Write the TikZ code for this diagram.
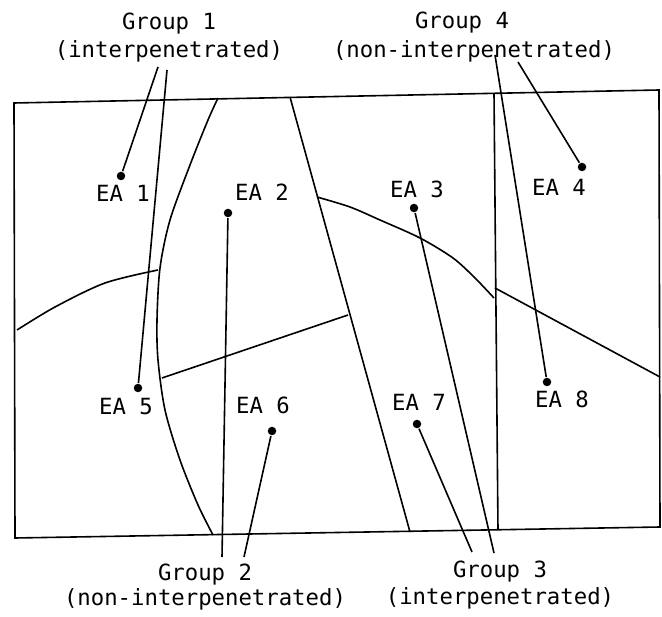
\documentclass[tikz,border=0pt]{standalone}
\usepackage{fontspec}
\setmonofont{DejaVu Sans Mono}
\begin{document}
\begin{tikzpicture}[x=1pt,y=-1pt,line width=1.6pt,
  lbl/.style={font=\ttfamily\fontsize{22.3}{26}\selectfont,inner sep=0pt},
  dot/.style={circle,fill,inner sep=0pt,minimum size=8.5pt}]
\useasboundingbox (0,0) rectangle (662,617);
% frame and boundaries
\draw (14,103) -- (659,90) -- (660,527) -- (15,538) -- cycle;
\draw plot[smooth] coordinates {(218,98) (208,120) (190,165) (170,220) (160,268) (157,320) (158,360) (165,410) (180,460) (198,505) (213,535)};
\draw (290,97) -- (410,532);
\draw (494,93) -- (498,530);
\draw plot[smooth] coordinates {(17,330) (55,307) (105,283) (158,270)};
\draw (162,378) -- (348,315);
\draw plot[smooth] coordinates {(317,197) (350,207) (380,220) (420,238) (453,258) (475,278) (494,298)};
\draw (495,288) -- (660,377);
% labels
\node[lbl] (g1) at (169,24) {Group 1};
\node[lbl] (g1b) at (169,51) {(interpenetrated)};
\node[lbl] (g4) at (462,23) {Group 4};
\node[lbl] (g4b) at (474,51) {(non-interpenetrated)};
\node[lbl] (g2) at (205,575) {Group 2};
\node[lbl] (g2b) at (205,599) {(non-interpenetrated)};
\node[lbl] (g3) at (500,572) {Group 3};
\node[lbl] (g3b) at (500,598) {(interpenetrated)};
\node[lbl] (ea1) at (123,193) {EA 1};
\node[lbl] (ea2) at (262,192) {EA 2};
\node[lbl] (ea3) at (417,189) {EA 3};
\node[lbl] (ea4) at (559,187) {EA 4};
\node[lbl] (ea5) at (126,407) {EA 5};
\node[lbl] (ea6) at (263,405) {EA 6};
\node[lbl] (ea7) at (419,402) {EA 7};
\node[lbl] (ea8) at (562,399) {EA 8};
% dots
\node[dot] (d1) at (121,176) {};
\node[dot] (d2) at (228,213) {};
\node[dot] (d3) at (414,208) {};
\node[dot] (d4) at (582,167) {};
\node[dot] (d5) at (138,388) {};
\node[dot] (d6) at (272,431) {};
\node[dot] (d7) at (417,424) {};
\node[dot] (d8) at (547,382) {};
% leaders
\coordinate (l1a) at (158,67);
\coordinate (l1b) at (167,70);
\coordinate (l4a) at (495,55);
\coordinate (l4b) at (518,62);
\coordinate (l2a) at (222,557);
\coordinate (l2b) at (244,557);
\coordinate (l3a) at (472,552);
\coordinate (l3b) at (494,553);
\draw (l1a) -- (d1);
\draw (l1b) -- (d5);
\draw (l4a) -- (d8);
\draw (l4b) -- (d4);
\draw (l2a) -- (d2);
\draw (l2b) -- (d6);
\draw (l3a) -- (d7);
\draw (l3b) -- (d3);
\end{tikzpicture}
\end{document}
